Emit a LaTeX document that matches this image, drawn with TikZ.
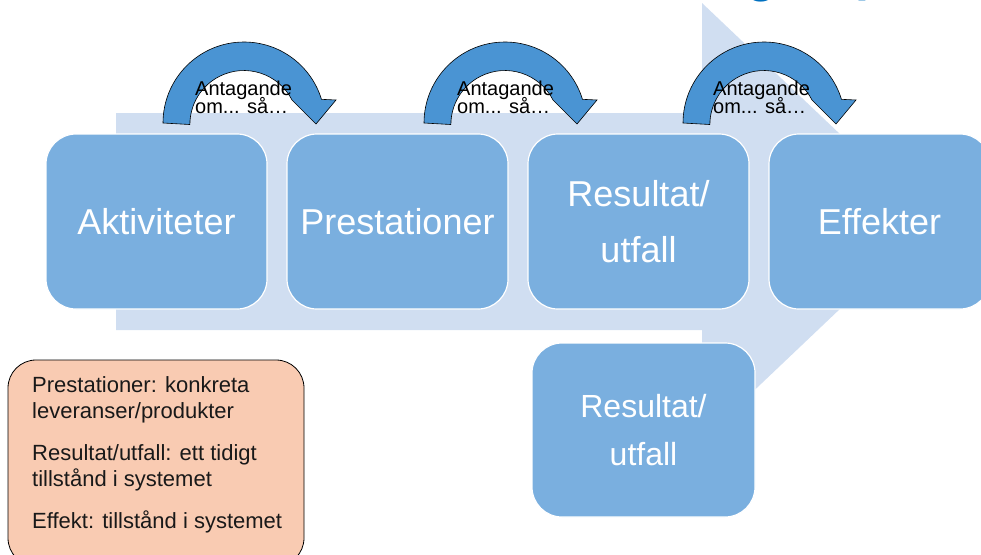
\documentclass[tikz,border=0pt]{standalone}
\usepackage{fontspec}
\setmainfont{Liberation Sans}
\definecolor{bgarrow}{RGB}{208,222,241}
\definecolor{boxblue}{RGB}{122,175,223}
\definecolor{curvblue}{RGB}{74,148,211}
\definecolor{salmon}{RGB}{249,203,178}
\definecolor{titleblue}{RGB}{0,112,192}
\definecolor{legtext}{RGB}{25,25,25}
\begin{document}
\begin{tikzpicture}[x=1pt,y=-1pt,
  stagebox/.style={draw=white, line width=1.2pt, fill=boxblue, rounded corners=30pt,
    minimum width=221pt, minimum height=175pt, inner sep=0pt, text=white,
    font=\fontsize{36}{56}\selectfont, align=center},
  smallstage/.style={stagebox, minimum width=223pt, minimum height=174pt,
    font=\fontsize{32}{48}\selectfont},
  curvarrow/.style={fill=curvblue, draw=black, line width=0.6pt, line join=miter},
  antlabel/.style={anchor=north west, inner sep=0pt, align=left, text=black,
    font={\fontsize{20}{18.5}\selectfont\lineskiplimit=-20pt}},
  legendbox/.style={draw=black, line width=0.8pt, fill=salmon, rounded corners=28pt,
    minimum width=296pt, minimum height=206pt, inner sep=0pt},
  legendtext/.style={anchor=north west, inner sep=0pt, align=left, text=legtext,
    font={\fontsize{22}{26.5}\selectfont}},
  titlefrag/.style={anchor=base west, inner sep=0pt, text=titleblue,
    font=\fontsize{50}{60}\selectfont\bfseries}
]
\useasboundingbox (0,0) rectangle (981,554);
\clip (0,0) rectangle (981,554);

% title fragments (cut off at the top, as in the reference)
\node[titlefrag] (titleg) at (746,-8.5) {g};
\node[titlefrag] (titlep) at (855,-9.5) {p};

% big background arrow
\fill[bgarrow] (116,113) -- (702,113) -- (702,3) -- (932,221.5) -- (702,440)
  -- (702,330) -- (116,330) -- cycle;

% curved arrows
\foreach \cx in {244,505,764}{
  \draw[curvarrow] (\cx-81,123) arc[start angle=180, end angle=343, radius=81]
    -- (\cx+92,100) -- (\cx+72,124) -- (\cx+48,100)
    arc[start angle=333, end angle=180, radius=54] -- cycle;
}

% stage boxes
\node[stagebox] (akt) at (156.5,221.5) {Aktiviteter};
\node[stagebox] (pre) at (397.5,221.5) {Prestationer};
\node[stagebox] (res) at (638.5,221.5) {Resultat/\\utfall};
\node[stagebox] (eff) at (879.5,221.5) {Effekter};
\node[smallstage] (res2) at (643.5,430) {Resultat/\\utfall};

% assumption labels
\node[antlabel] (ant1) at (195,80.5) {Antagande\\om... så…};
\node[antlabel] (ant2) at (457,80.5) {Antagande\\om... så…};
\node[antlabel] (ant3) at (713,80.5) {Antagande\\om... så…};

% legend
\node[legendbox] (legend) at (156,463) {};
\node[legendtext] (legtxt) at (32,376)
  {Prestationer: konkreta\\leveranser/produkter\\[15pt]Resultat/utfall: ett tidigt\\tillstånd i systemet\\[15pt]Effekt: tillstånd i systemet};
\end{tikzpicture}
\end{document}
